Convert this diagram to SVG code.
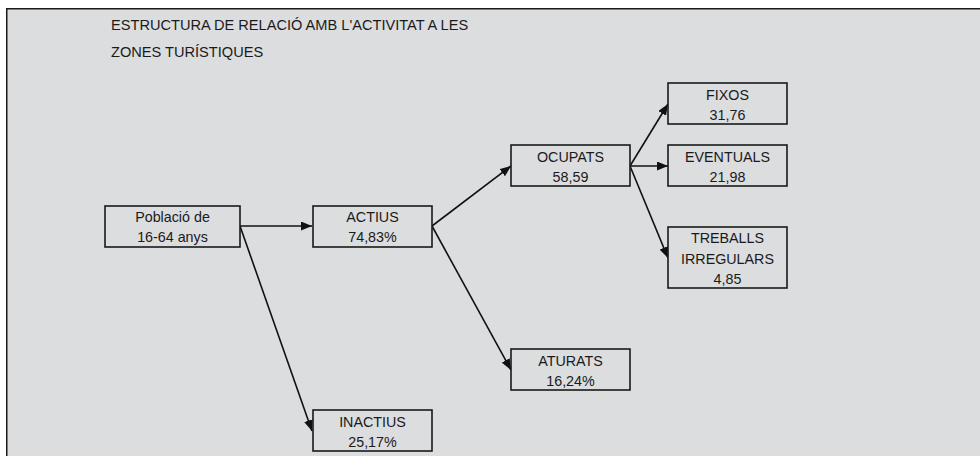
<svg xmlns="http://www.w3.org/2000/svg" width="980" height="456" viewBox="0 0 980 456">
<defs>
<style>
.box{fill:#dcdddf;stroke:#1a1a1a;stroke-width:1.6}
.t{font-family:"Liberation Sans",Arial,sans-serif;font-size:14.3px;fill:#1a1a1a;text-anchor:middle}
.title{font-family:"Liberation Sans",Arial,sans-serif;font-size:14.6px;fill:#1a1a1a}
.c{stroke:#111;stroke-width:1.6;fill:none;marker-end:url(#ah)}
</style>
<marker id="ah" viewBox="0 0 11 9" refX="11" refY="4.5" markerWidth="11" markerHeight="9" markerUnits="userSpaceOnUse" orient="auto">
<path d="M0,0 L11,4.5 L0,9 Z" fill="#111"/>
</marker>
</defs>
<rect x="0" y="0" width="980" height="456" fill="#ffffff"/>
<rect x="6" y="8" width="974" height="448" fill="#dcdddf"/>
<path d="M6.75,456 V8.75 H980" fill="none" stroke="#1a1a1a" stroke-width="1.5"/>
<text class="title" x="111" y="29.5">ESTRUCTURA DE RELACIÓ AMB L'ACTIVITAT A LES</text>
<text class="title" x="111" y="57">ZONES TURÍSTIQUES</text>
<g id="connectors">
<line class="c" x1="240" y1="226" x2="312" y2="226"/>
<line class="c" x1="240" y1="226" x2="312" y2="431"/>
<line class="c" x1="432" y1="226" x2="511" y2="166"/>
<line class="c" x1="432" y1="226" x2="511" y2="370"/>
<line class="c" x1="630" y1="166" x2="668" y2="104"/>
<line class="c" x1="630" y1="166" x2="668" y2="166"/>
<line class="c" x1="630" y1="166" x2="668" y2="258"/>
</g>
<g id="poblacio">
<rect class="box" x="105" y="206" width="135" height="41"/>
<text class="t" x="172.5" y="221.5">Població de</text>
<text class="t" x="172.5" y="241.5">16-64 anys</text>
</g>
<g id="actius">
<rect class="box" x="313" y="206" width="119" height="41"/>
<text class="t" x="372.5" y="221.5">ACTIUS</text>
<text class="t" x="372.5" y="241.5">74,83%</text>
</g>
<g id="ocupats">
<rect class="box" x="511" y="145" width="119" height="41"/>
<text class="t" x="570.5" y="161.5">OCUPATS</text>
<text class="t" x="570.5" y="181.5">58,59</text>
</g>
<g id="fixos">
<rect class="box" x="668" y="83" width="119" height="41"/>
<text class="t" x="727.5" y="99.5">FIXOS</text>
<text class="t" x="727.5" y="119.5">31,76</text>
</g>
<g id="eventuals">
<rect class="box" x="668" y="145" width="119" height="41"/>
<text class="t" x="727.5" y="161.5">EVENTUALS</text>
<text class="t" x="727.5" y="181.5">21,98</text>
</g>
<g id="treballs">
<rect class="box" x="668" y="227" width="119" height="61"/>
<text class="t" x="727.5" y="243">TREBALLS</text>
<text class="t" x="727.5" y="263.5">IRREGULARS</text>
<text class="t" x="727.5" y="283.5">4,85</text>
</g>
<g id="aturats">
<rect class="box" x="511" y="349" width="119" height="41"/>
<text class="t" x="570.5" y="366">ATURATS</text>
<text class="t" x="570.5" y="386">16,24%</text>
</g>
<g id="inactius">
<rect class="box" x="313" y="410" width="119" height="41"/>
<text class="t" x="372.5" y="427">INACTIUS</text>
<text class="t" x="372.5" y="447">25,17%</text>
</g>
</svg>
